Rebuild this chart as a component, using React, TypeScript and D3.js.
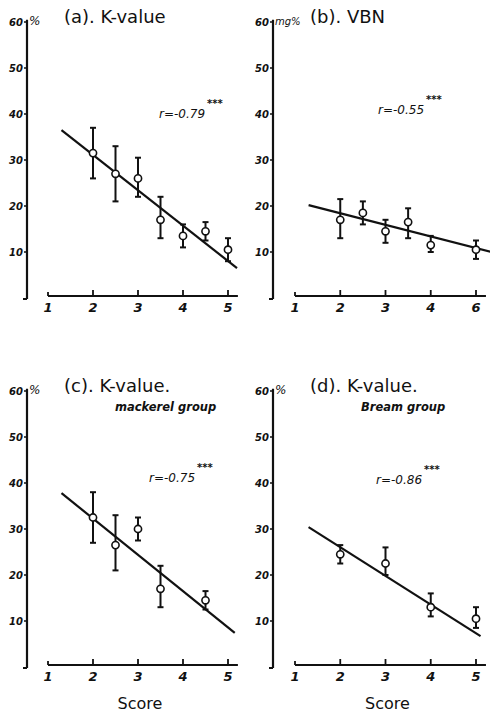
import React from "react";
import * as d3 from "d3";

// ---------- data ----------
const yTicks = [10, 20, 30, 40, 50, 60];
const xTicks = [1, 2, 3, 4, 5];
const xTickLabelsA = ["1", "2", "3", "4", "5"];
const xTickLabelsB = ["1", "2", "3", "4", "6"];

const scoresA = [2, 2.5, 3, 3.5, 4, 4.5, 5];
const meansA = [31.5, 27, 26, 17, 13.5, 14.5, 10.5];
const lowA = [26, 21, 22, 13, 11, 12.5, 8];
const highA = [37, 33, 30.5, 22, 16, 16.5, 13];
const fitXA = [1.3, 5.2];
const fitYA = [36.5, 6.5];

const scoresB = [2, 2.5, 3, 3.5, 4, 5];
const meansB = [17, 18.5, 14.5, 16.5, 11.5, 10.5];
const lowB = [13, 16, 12, 13, 10, 8.5];
const highB = [21.5, 21, 17, 19.5, 13.5, 12.5];
const fitXB = [1.3, 5.35];
const fitYB = [20.2, 10];

const scoresC = [2, 2.5, 3, 3.5, 4.5];
const meansC = [32.5, 26.5, 30, 17, 14.5];
const lowC = [27, 21, 27.5, 13, 12.5];
const highC = [38, 33, 32.5, 22, 16.5];
const fitXC = [1.3, 5.15];
const fitYC = [37.8, 7.4];

const scoresD = [2, 3, 4, 5];
const meansD = [24.5, 22.5, 13, 10.5];
const lowD = [22.5, 20, 11, 8.5];
const highD = [26.5, 26, 16, 13];
const fitXD = [1.3, 5.1];
const fitYD = [30.4, 6.7];

const titles = ["(a). K-value", "(b). VBN", "(c). K-value.", "(d). K-value."];
const subtitles = ["", "", "mackerel group", "Bream group"];
const rLabels = ["r=-0.79", "r=-0.55", "r=-0.75", "r=-0.86"];
const units = ["%", "mg%", "%", "%"];
const xAxisTitle = "Score";

// ---------- layout ----------
type PanelProps = {
  axisX: number;
  x1: number;
  x5: number;
  y0: number;
  y60: number;
  scores: number[];
  means: number[];
  low: number[];
  high: number[];
  fitX: number[];
  fitY: number[];
  xLabels: string[];
  title: string;
  subtitle: string;
  rLabel: string;
  unit: string;
  rPos: [number, number];
  showScore: boolean;
};

const ink = "#111";
const hand = "'DejaVu Sans', 'Liberation Sans', sans-serif";

function Panel(p: PanelProps) {
  const x = d3.scaleLinear().domain([1, 5]).range([p.x1, p.x5]);
  const y = d3.scaleLinear().domain([0, 60]).range([p.y0, p.y60]);
  const fitLine = d3
    .line<number>()
    .x((_, i) => x(p.fitX[i]))
    .y((v) => y(v));
  const axisY = p.y0 - 2;
  return (
    <g>
      {/* y axis */}
      <line x1={p.axisX} x2={p.axisX} y1={y(60.5)} y2={y(0) + 1} stroke={ink} strokeWidth={2.2} />
      <line x1={p.axisX - 4} x2={p.axisX} y1={y(0) + 1} y2={y(0) + 1} stroke={ink} strokeWidth={2} />
      {yTicks.map((t) => (
        <g key={t}>
          <line x1={p.axisX - 3} x2={p.axisX} y1={y(t)} y2={y(t)} stroke={ink} strokeWidth={1.5} />
          <text
            x={p.axisX - 4}
            y={y(t) + 4}
            textAnchor="end"
            fontFamily={hand}
            fontStyle="italic"
            fontWeight="bold"
            fontSize={10}
            fill={ink}
          >
            {t}
          </text>
        </g>
      ))}
      <text x={p.axisX + 2} y={y(60) + 3} fontFamily={hand} fontStyle="italic" fontSize={p.unit === "%" ? 12 : 10} fill={ink}>
        {p.unit}
      </text>
      {/* x axis */}
      <line x1={x(1)} x2={x(5.22)} y1={axisY} y2={axisY} stroke={ink} strokeWidth={2.2} />
      {xTicks.map((t, i) => (
        <g key={t}>
          <line x1={x(t)} x2={x(t)} y1={axisY - (t === 1 ? 4 : 6)} y2={axisY} stroke={ink} strokeWidth={1.8} />
          <text
            x={x(t)}
            y={axisY + 16}
            textAnchor="middle"
            fontFamily={hand}
            fontStyle="italic"
            fontWeight="bold"
            fontSize={13}
            fill={ink}
          >
            {p.xLabels[i]}
          </text>
        </g>
      ))}
      {p.showScore && (
        <text x={(x(2) + x(4)) / 2 + 2} y={axisY + 44} textAnchor="middle" fontFamily={hand} fontSize={16} fill={ink}>
          {xAxisTitle}
        </text>
      )}
      {/* regression */}
      <path d={fitLine(p.fitY) || ""} fill="none" stroke={ink} strokeWidth={2.2} />
      {/* error bars + points */}
      {p.scores.map((s, i) => (
        <g key={i}>
          <line x1={x(s)} x2={x(s)} y1={y(p.low[i])} y2={y(p.high[i])} stroke={ink} strokeWidth={2} />
          <line x1={x(s) - 3} x2={x(s) + 3} y1={y(p.low[i])} y2={y(p.low[i])} stroke={ink} strokeWidth={2} />
          <line x1={x(s) - 3} x2={x(s) + 3} y1={y(p.high[i])} y2={y(p.high[i])} stroke={ink} strokeWidth={2} />
          <circle cx={x(s)} cy={y(p.means[i])} r={3.6} fill="#fff" stroke={ink} strokeWidth={1.6} />
        </g>
      ))}
      {/* titles */}
      <text x={p.axisX + 37} y={y(60) + 1} fontFamily={hand} fontSize={18} fill={ink}>
        {p.title}
      </text>
      {p.subtitle && (
        <text x={p.axisX + 88} y={y(60) + 20} fontFamily={hand} fontStyle="italic" fontWeight="bold" fontSize={11.5} fill={ink}>
          {p.subtitle}
        </text>
      )}
      <text x={p.rPos[0]} y={p.rPos[1]} fontFamily={hand} fontStyle="italic" fontSize={12} fill={ink}>
        {p.rLabel}
      </text>
      <text x={p.rPos[0] + 48} y={p.rPos[1] - 11} fontFamily={hand} fontSize={10} fontWeight="bold" fill={ink}>
        ***
      </text>
    </g>
  );
}

export default function App() {
  return (
    <svg
      width={490}
      height={715}
      viewBox="0 0 490 715"
      style={{ position: "absolute", left: 0, top: 0, background: "#fff" }}
    >
      <rect width={490} height={715} fill="#fff" />
      <Panel
        axisX={27} x1={48} x5={228} y0={298} y60={22}
        scores={scoresA} means={meansA} low={lowA} high={highA}
        fitX={fitXA} fitY={fitYA} xLabels={xTickLabelsA}
        title={titles[0]} subtitle={subtitles[0]} rLabel={rLabels[0]} unit={units[0]}
        rPos={[159, 118]} showScore={false}
      />
      <Panel
        axisX={273} x1={295} x5={476} y0={298} y60={22}
        scores={scoresB} means={meansB} low={lowB} high={highB}
        fitX={fitXB} fitY={fitYB} xLabels={xTickLabelsB}
        title={titles[1]} subtitle={subtitles[1]} rLabel={rLabels[1]} unit={units[1]}
        rPos={[378, 114]} showScore={false}
      />
      <Panel
        axisX={27} x1={48} x5={228} y0={667} y60={391}
        scores={scoresC} means={meansC} low={lowC} high={highC}
        fitX={fitXC} fitY={fitYC} xLabels={xTickLabelsA}
        title={titles[2]} subtitle={subtitles[2]} rLabel={rLabels[2]} unit={units[2]}
        rPos={[149, 482]} showScore={true}
      />
      <Panel
        axisX={273} x1={295} x5={476} y0={667} y60={391}
        scores={scoresD} means={meansD} low={lowD} high={highD}
        fitX={fitXD} fitY={fitYD} xLabels={xTickLabelsA}
        title={titles[3]} subtitle={subtitles[3]} rLabel={rLabels[3]} unit={units[3]}
        rPos={[376, 484]} showScore={true}
      />
    </svg>
  );
}
